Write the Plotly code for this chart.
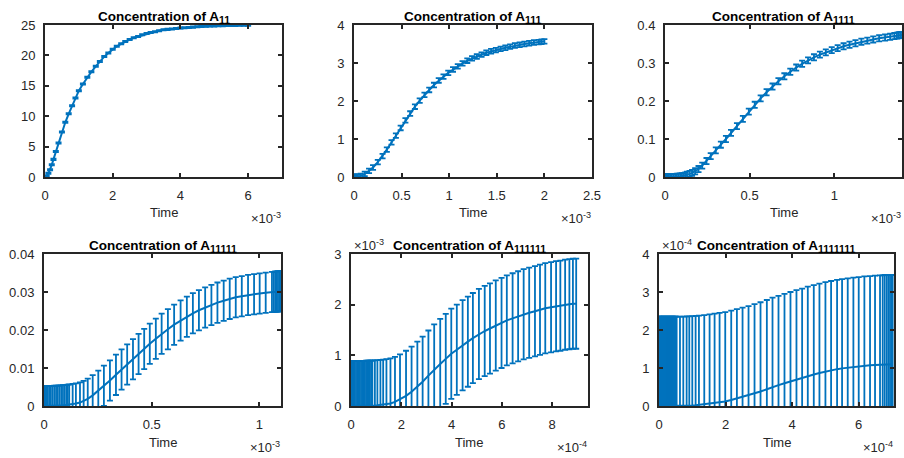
import plotly.graph_objects as go

# ---------------- data ----------------
# time values are in the displayed units (x 10^-3 or x 10^-4 s, see X_EXP)
SUBSCRIPTS = ["11", "111", "1111", "11111", "111111", "1111111"]
X_EXP = [-3, -3, -3, -3, -4, -4]
Y_EXP = [None, None, None, None, -3, -4]

T1 = [0, 0.02, 0.05, 0.1, 0.15, 0.2, 0.25, 0.32, 0.4, 0.5, 0.6, 0.7, 0.8, 0.9, 1.0, 1.12, 1.25, 1.37,
      1.5, 1.62, 1.75, 1.87, 2.0, 2.12, 2.25, 2.37, 2.5, 2.62, 2.75, 2.87, 3.0, 3.12, 3.25, 3.37, 3.5,
      3.62, 3.75, 3.87, 4.0, 4.12, 4.25, 4.37, 4.5, 4.62, 4.75, 4.87, 5.0, 5.12, 5.25, 5.37, 5.5, 5.62,
      5.75, 5.87, 6.0]
Y1 = [0, 0.03, 0.15, 0.6, 1.2, 2.0, 2.9, 4.2, 5.6, 7.4, 9.0, 10.4, 11.7, 13.0, 14.2, 15.3, 16.4, 17.3,
      18.2, 19.0, 19.8, 20.4, 21.0, 21.5, 21.9, 22.3, 22.6, 22.9, 23.1, 23.4, 23.6, 23.75, 23.9, 24.05,
      24.2, 24.28, 24.35, 24.43, 24.5, 24.55, 24.6, 24.65, 24.7, 24.74, 24.78, 24.82, 24.85, 24.87,
      24.89, 24.9, 24.92, 24.93, 24.94, 24.95, 24.96]

T2 = [0, 0.004, 0.01, 0.017, 0.025, 0.035, 0.07, 0.113, 0.158, 0.2, 0.25, 0.3, 0.345, 0.394, 0.44,
      0.49, 0.54, 0.59, 0.64, 0.69, 0.74, 0.79, 0.84, 0.89, 0.94, 0.99, 1.04, 1.09, 1.14, 1.19, 1.24,
      1.29, 1.34, 1.39, 1.44, 1.49, 1.54, 1.59, 1.64, 1.69, 1.74, 1.79, 1.84, 1.89, 1.94, 1.97, 2.0]
Y2 = [0, 0, 0.001, 0.002, 0.003, 0.006, 0.025, 0.08, 0.16, 0.25, 0.39, 0.55, 0.72, 0.91, 1.09, 1.29,
      1.49, 1.67, 1.85, 2.01, 2.16, 2.29, 2.42, 2.54, 2.64, 2.74, 2.83, 2.91, 2.99, 3.06, 3.12, 3.17,
      3.22, 3.27, 3.31, 3.34, 3.37, 3.4, 3.43, 3.46, 3.48, 3.5, 3.52, 3.54, 3.55, 3.56, 3.57]

T3 = [0, 0.003, 0.008, 0.015, 0.022, 0.03, 0.04, 0.05, 0.06, 0.07, 0.08, 0.09, 0.1, 0.11, 0.12, 0.13,
      0.145, 0.16, 0.178, 0.198, 0.22, 0.245, 0.27, 0.3, 0.33, 0.36, 0.39, 0.425, 0.46, 0.495, 0.53,
      0.565, 0.6, 0.635, 0.67, 0.705, 0.74, 0.775, 0.81, 0.845, 0.88, 0.915, 0.95, 0.985, 1.02, 1.055,
      1.09, 1.125, 1.16, 1.195, 1.23, 1.265, 1.3, 1.33, 1.355, 1.37, 1.38, 1.39, 1.4]
Y3 = [0, 0, 0, 0, 0, 0, 0.0001, 0.0002, 0.0004, 0.0007, 0.001, 0.0015, 0.002, 0.003, 0.004, 0.006,
      0.008, 0.011, 0.015, 0.021, 0.03, 0.042, 0.055, 0.07, 0.085, 0.1, 0.116, 0.134, 0.153, 0.172,
      0.19, 0.207, 0.223, 0.238, 0.252, 0.265, 0.277, 0.288, 0.298, 0.307, 0.315, 0.322, 0.328, 0.334,
      0.339, 0.344, 0.348, 0.352, 0.356, 0.359, 0.362, 0.365, 0.367, 0.369, 0.371, 0.372, 0.373,
      0.374, 0.374]

T4 = [0, 0.003, 0.007, 0.012, 0.018, 0.025, 0.032, 0.04, 0.048, 0.056, 0.064, 0.072, 0.08, 0.088,
      0.096, 0.104, 0.11, 0.117, 0.133, 0.148, 0.167, 0.184, 0.203, 0.226, 0.252, 0.278, 0.306, 0.334,
      0.36, 0.386, 0.413, 0.439, 0.465, 0.491, 0.519, 0.546, 0.575, 0.604, 0.634, 0.663, 0.691, 0.719,
      0.748, 0.777, 0.805, 0.834, 0.862, 0.89, 0.918, 0.947, 0.975, 1.001, 1.029, 1.058, 1.066, 1.073,
      1.08, 1.086, 1.092, 1.097, 1.1]
Y4 = [0, 0, 0, 0, 0, 0, 0.00001, 0.00002, 0.00003, 0.00005, 0.00007, 0.0001, 0.00013, 0.00017,
      0.00021, 0.00026, 0.0003, 0.00036, 0.0005, 0.00068, 0.0009, 0.0013, 0.0019, 0.0028, 0.004,
      0.0053, 0.0067, 0.0082, 0.0096, 0.0109, 0.0123, 0.0137, 0.015, 0.0164, 0.0177, 0.019, 0.0202,
      0.0214, 0.0225, 0.0235, 0.0244, 0.0252, 0.0259, 0.0266, 0.0272, 0.0277, 0.0282, 0.0286, 0.0289,
      0.0292, 0.0294, 0.0296, 0.0298, 0.03, 0.03, 0.0301, 0.0301, 0.0302, 0.0302, 0.0302, 0.0302]

T5 = [0, 0.02, 0.05, 0.1, 0.15, 0.2, 0.25, 0.3, 0.35, 0.4, 0.45, 0.5, 0.55, 0.6, 0.65, 0.7, 0.75, 0.8,
      0.85, 0.95, 1.05, 1.17, 1.28, 1.41, 1.57, 1.75, 1.95, 2.19, 2.41, 2.64, 2.85, 3.08, 3.31, 3.55,
      3.77, 3.99, 4.21, 4.44, 4.65, 4.85, 5.09, 5.32, 5.53, 5.76, 5.99, 6.2, 6.43, 6.65, 6.87, 7.09,
      7.32, 7.52, 7.73, 7.96, 8.16, 8.33, 8.52, 8.69, 8.83, 8.96]
Y5 = [0, 0, 0, 0, 0, 0, 0, 0, 0, 0.001, 0.001, 0.002, 0.002, 0.003, 0.004, 0.005, 0.006, 0.007,
      0.008, 0.01, 0.015, 0.02, 0.025, 0.035, 0.05, 0.08, 0.13, 0.2, 0.28, 0.38, 0.48, 0.6, 0.72, 0.83,
      0.93, 1.03, 1.11, 1.2, 1.27, 1.34, 1.42, 1.48, 1.53, 1.59, 1.64, 1.69, 1.73, 1.77, 1.81, 1.84,
      1.87, 1.9, 1.93, 1.95, 1.97, 1.98, 2.0, 2.01, 2.02, 2.02]

T6 = [0, 0.02, 0.05, 0.08, 0.11, 0.14, 0.17, 0.2, 0.23, 0.26, 0.29, 0.32, 0.35, 0.38, 0.41, 0.44, 0.47,
      0.5, 0.53, 0.63, 0.73, 0.83, 0.91, 1.0, 1.1, 1.2, 1.36, 1.52, 1.67, 1.82, 1.99, 2.17, 2.34, 2.51,
      2.69, 2.87, 3.05, 3.24, 3.41, 3.59, 3.77, 3.95, 4.13, 4.3, 4.47, 4.65, 4.82, 5.0, 5.17, 5.35, 5.5,
      5.67, 5.84, 6.0, 6.17, 6.34, 6.49, 6.64, 6.72, 6.78, 6.84, 6.89, 6.94, 6.98, 7.02]
Y6 = [0, 0, 0, 0, 0, 0, 0, 0, 0, 0, 0, 0, 0, 0, 0, 0, 0, 0, 0.001, 0.002, 0.004, 0.007, 0.01, 0.015,
      0.02, 0.03, 0.04, 0.06, 0.08, 0.1, 0.12, 0.16, 0.2, 0.24, 0.28, 0.33, 0.38, 0.44, 0.5, 0.55, 0.6,
      0.65, 0.7, 0.74, 0.79, 0.83, 0.87, 0.91, 0.94, 0.97, 0.99, 1.01, 1.03, 1.04, 1.06, 1.07, 1.08,
      1.09, 1.09, 1.1, 1.1, 1.1, 1.1, 1.1, 1.1]

# standard deviation of each species (displayed y units)
STD = [0.1, 0.06, 0.008, 0.0053, 0.89, 2.35]

TIMES = [T1, T2, T3, T4, T5, T6]
MEANS = [Y1, Y2, Y3, Y4, Y5, Y6]

# ---------------- layout ----------------
W, H = 904, 458
BOXES = [(45, 282, 25, 177), (354, 592, 25, 177), (665, 902, 25, 177),
         (44, 281, 254, 406), (351, 588, 254, 406), (659, 894, 254, 406)]
XRANGES = [[0, 7], [0, 2.5], [0, 1.4], [0, 1.1], [0, 9.43], [0, 7.06]]
YRANGES = [[0, 25], [0, 4], [0, 0.4], [0, 0.04], [0, 3], [0, 4]]
XDTICK = [2, 0.5, 0.5, 0.5, 2, 2]
YDTICK = [5, 1, 0.1, 0.01, 1, 1]

BLUE = "#0072BD"
AX = "#262626"
FONT = "Liberation Sans, Arial, Helvetica, sans-serif"

fig = go.Figure()
annotations = []
layout = {}


def px_x(p):
    return p / W


def px_y(p):
    return 1 - p / H


for i in range(6):
    n = i + 1
    xa = "x" if n == 1 else f"x{n}"
    ya = "y" if n == 1 else f"y{n}"
    fig.add_trace(go.Scatter(
        x=TIMES[i], y=MEANS[i], mode="lines", xaxis=xa, yaxis=ya,
        line=dict(color=BLUE, width=2),
        error_y=dict(type="constant", value=STD[i], color=BLUE, thickness=1.8, width=3),
        showlegend=False, hoverinfo="x+y"))
    x0, x1, y0, y1 = BOXES[i]
    axcommon = dict(showline=True, linecolor=AX, linewidth=2, mirror="ticks",
                    ticks="inside", ticklen=4, tickwidth=2, tickcolor=AX,
                    showgrid=False, zeroline=False, automargin=False,
                    tickfont=dict(family=FONT, size=13, color=AX))
    layout["xaxis" if n == 1 else f"xaxis{n}"] = dict(
        domain=[px_x(x0), px_x(x1)], range=XRANGES[i], dtick=XDTICK[i], tick0=0,
        anchor=ya, ticklabelstandoff=5, **axcommon)
    layout["yaxis" if n == 1 else f"yaxis{n}"] = dict(
        domain=[px_y(y1), px_y(y0)], range=YRANGES[i], dtick=YDTICK[i], tick0=0,
        anchor=xa, ticklabelstandoff=5, **axcommon)
    cx = px_x((x0 + x1) / 2)
    annotations.append(dict(
        text=(f"<b>Concentration of A<sub><span style='font-size:10.5px'>"
              f"{SUBSCRIPTS[i]}</span></sub></b>"),
        x=cx, y=px_y(y0 + 3), xref="paper", yref="paper", xanchor="center", yanchor="bottom",
        showarrow=False, font=dict(family=FONT, size=13.5, color="black")))
    annotations.append(dict(
        text="Time", x=cx, y=px_y(y1 + 36), xref="paper", yref="paper",
        xanchor="center", yanchor="middle", showarrow=False,
        font=dict(family=FONT, size=13, color=AX)))
    annotations.append(dict(
        text=f"\u00d710<sup>{X_EXP[i]}</sup>", x=px_x(min(x1 + 1, 903)), y=px_y(y1 + 41),
        xref="paper", yref="paper", xanchor="right", yanchor="middle", showarrow=False,
        font=dict(family=FONT, size=13, color=AX)))
    if Y_EXP[i] is not None:
        annotations.append(dict(
            text=f"\u00d710<sup>{Y_EXP[i]}</sup>", x=px_x(x0 + 1), y=px_y(y0 - 9), xref="paper",
            yref="paper", xanchor="left", yanchor="middle", showarrow=False,
            font=dict(family=FONT, size=13, color=AX)))

fig.update_layout(width=W, height=H, margin=dict(l=0, r=0, t=0, b=0),
                  paper_bgcolor="white", plot_bgcolor="white",
                  annotations=annotations, **layout)
fig.write_html("out.html", config={"displayModeBar": False},
               post_script="document.body.style.margin='0';document.body.style.overflow='hidden';")
